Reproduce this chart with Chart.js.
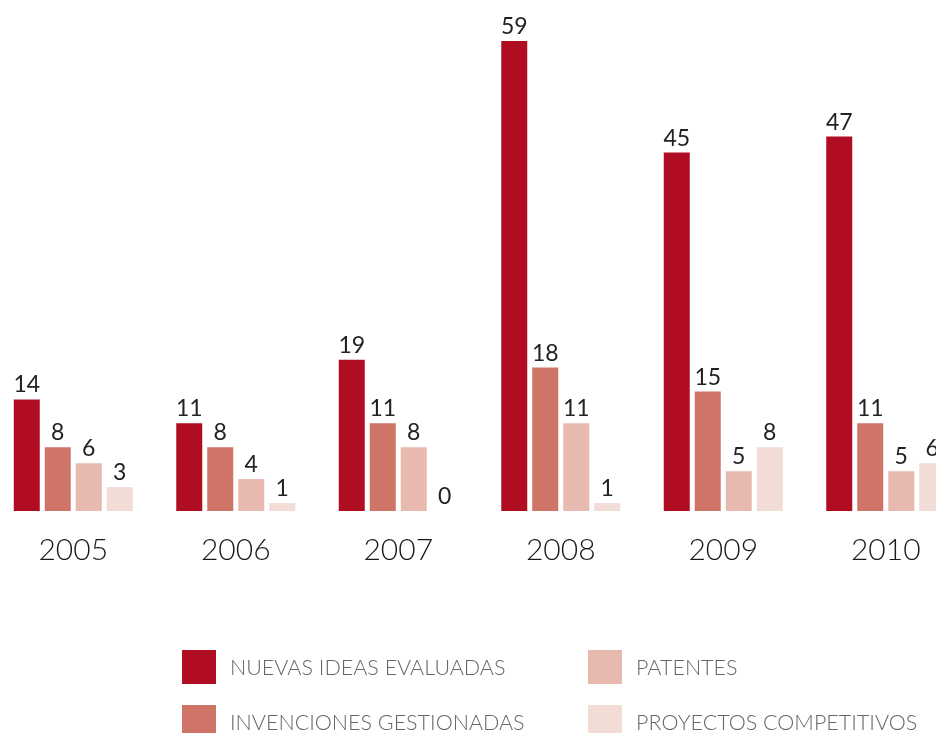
<!DOCTYPE html>
<html lang="es">
<head>
    <meta charset="UTF-8">
    <title>Nuevas ideas, invenciones, patentes y proyectos 2005-2010</title>
    <script src="https://cdn.jsdelivr.net/npm/chart.js@4"></script>
    <style>
        html, body { margin: 0; padding: 0; background: #fff; overflow: hidden; }
        body { width: 936px; height: 733px; position: relative; font-family: "Lato", "DejaVu Sans", sans-serif; }
        #chartBox { position: absolute; left: -8px; top: 0; width: 975px; height: 605px; }
        #legend { position: absolute; left: 0; top: 0; width: 936px; height: 733px; }
        .item { position: absolute; display: flex; align-items: center; }
        .box { width: 34px; height: 34px; }
        .txt { color: #666; font-size: 21.5px; font-weight: 300; margin-left: 14px; white-space: nowrap; }
    </style>
</head>
<body>
    <div id="chartBox"><canvas id="chart"></canvas></div>
    <div id="legend"></div>

    <script>
        const years = ["2005", "2006", "2007", "2008", "2009", "2010"];
        const nuevasIdeas = [14, 11, 19, 59, 45, 47];
        const invenciones = [8, 8, 11, 18, 15, 11];
        const patentes = [6, 4, 8, 11, 5, 5];
        const proyectos = [3, 1, 0, 1, 8, 6];

        const seriesNames = [
            "NUEVAS IDEAS EVALUADAS",
            "INVENCIONES GESTIONADAS",
            "PATENTES",
            "PROYECTOS COMPETITIVOS"
        ];
        const colors = ["#b00d23", "#cf7568", "#e7b9af", "#f2dcd6"];
        const fontFamily = '"Lato", "DejaVu Sans", sans-serif';

        // draws the number above each bar
        const valueLabels = {
            id: "valueLabels",
            afterDatasetsDraw(chart) {
                const ctx = chart.ctx;
                ctx.save();
                ctx.font = "400 23px " + fontFamily;
                ctx.fillStyle = "#222";
                ctx.textAlign = "center";
                ctx.textBaseline = "alphabetic";
                chart.data.datasets.forEach((ds, i) => {
                    chart.getDatasetMeta(i).data.forEach((bar, j) => {
                        ctx.fillText(ds.data[j], bar.x, bar.y - 7);
                    });
                });
                ctx.restore();
            }
        };

        const chart = new Chart(document.getElementById("chart"), {
            type: "bar",
            data: {
                labels: years,
                datasets: [nuevasIdeas, invenciones, patentes, proyectos].map((d, i) => ({
                    label: seriesNames[i],
                    data: d,
                    backgroundColor: colors[i],
                    categoryPercentage: 0.763,
                    barPercentage: 0.839
                }))
            },
            options: {
                responsive: true,
                maintainAspectRatio: false,
                animation: false,
                layout: { padding: { top: 41, bottom: 16, left: 0, right: 0 } },
                plugins: {
                    legend: { display: false },
                    tooltip: { enabled: false }
                },
                scales: {
                    x: {
                        grid: { display: false, drawTicks: false },
                        border: { display: false },
                        ticks: {
                            color: "#1a1a1a",
                            padding: 21,
                            font: { size: 30, weight: "300", family: fontFamily }
                        }
                    },
                    y: {
                        display: false,
                        min: 0,
                        max: 59
                    }
                }
            },
            plugins: [valueLabels]
        });

        // legend in two columns, built from the datasets
        const legendPos = [
            { left: 182, top: 650 },
            { left: 182, top: 705 },
            { left: 588, top: 650 },
            { left: 588, top: 705 }
        ];
        const legendEl = document.getElementById("legend");
        chart.data.datasets.forEach((ds, i) => {
            const item = document.createElement("div");
            item.className = "item";
            item.style.left = legendPos[i].left + "px";
            item.style.top = legendPos[i].top + "px";
            const box = document.createElement("div");
            box.className = "box";
            box.style.background = ds.backgroundColor;
            const txt = document.createElement("span");
            txt.className = "txt";
            txt.textContent = ds.label;
            item.appendChild(box);
            item.appendChild(txt);
            legendEl.appendChild(item);
        });
    </script>
</body>
</html>
